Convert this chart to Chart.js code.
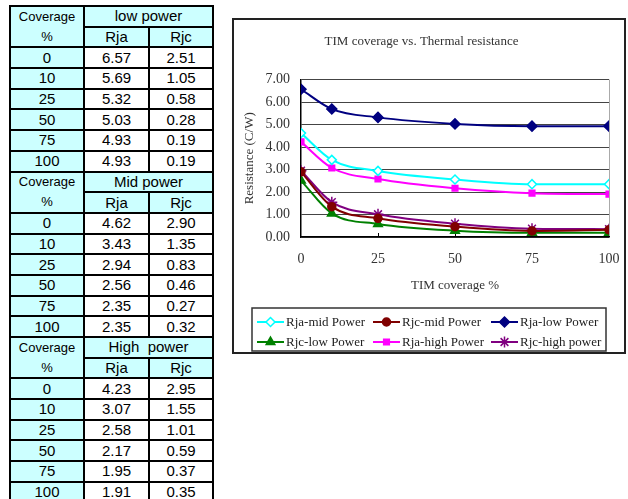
<!DOCTYPE html>
<html>
<head>
<meta charset="utf-8">
<script src="https://cdn.jsdelivr.net/npm/chart.js@4.4.1/dist/chart.umd.min.js"></script>
<style>
  body { margin: 0; background: #fff; width: 628px; height: 499px; overflow: hidden; position: relative; }
  #tabla { position: absolute; left: 9px; top: 5px; border-collapse: collapse; table-layout: fixed;
           font-family: "Liberation Sans", Arial, sans-serif; color: #000; }
  #tabla td { border: 2px solid #000; padding: 0; text-align: center; vertical-align: middle;
              height: 18.7px; font-size: 15px; line-height: 16px; }
  #tabla td.cov { background: #ccffff; }
  #tabla td.hdr { background: #ccffff; }
  #tabla td.small { font-size: 13px; }
  #tabla td.top { border-bottom: none; }
  #tabla td.bot { border-top: none; }
  #caja { position: absolute; left: 232px; top: 18px; width: 394px; height: 336px;
          border: 2px solid #222; box-sizing: border-box; }
</style>
</head>
<body>
<table id="tabla">
  <colgroup><col style="width:74px"><col style="width:65px"><col style="width:64px"></colgroup>
  <tbody id="cuerpo"></tbody>
</table>
<div id="caja"><canvas id="grafico" width="390" height="332"></canvas></div>
<script>
const coverage = [0, 10, 25, 50, 75, 100];
const rjaLow  = [6.57, 5.69, 5.32, 5.03, 4.93, 4.93];
const rjcLow  = [2.51, 1.05, 0.58, 0.28, 0.19, 0.19];
const rjaMid  = [4.62, 3.43, 2.94, 2.56, 2.35, 2.35];
const rjcMid  = [2.90, 1.35, 0.83, 0.46, 0.27, 0.32];
const rjaHigh = [4.23, 3.07, 2.58, 2.17, 1.95, 1.91];
const rjcHigh = [2.95, 1.55, 1.01, 0.59, 0.37, 0.35];
const xTicks = [0, 25, 50, 75, 100];
const yTicks = [0, 1, 2, 3, 4, 5, 6, 7];

// ---- tabla de la izquierda ----
const bloques = [
  { nombre: 'low power', rja: rjaLow, rjc: rjcLow },
  { nombre: 'Mid power', rja: rjaMid, rjc: rjcMid },
  { nombre: 'High&nbsp; power', rja: rjaHigh, rjc: rjcHigh }
];
let html = '';
bloques.forEach(b => {
  html += '<tr><td class="cov small top">Coverage</td><td class="hdr" colspan="2">' + b.nombre + '</td></tr>';
  html += '<tr><td class="cov small bot">%</td><td class="hdr">Rja</td><td class="hdr">Rjc</td></tr>';
  coverage.forEach((c, i) => {
    html += '<tr><td class="cov">' + c + '</td><td>' + b.rja[i].toFixed(2) + '</td><td>' + b.rjc[i].toFixed(2) + '</td></tr>';
  });
});
document.getElementById('cuerpo').innerHTML = html;

// ---- gráfico ----
const puntos = arr => coverage.map((c, i) => ({ x: c, y: arr[i] }));

const series = [
  { label: 'Rja-mid Power',  data: rjaMid,  color: '#00ffff', fill: '#ffffff', style: 'rectRot', r: 4.5 },
  { label: 'Rjc-mid Power',  data: rjcMid,  color: '#800000', fill: '#800000', style: 'circle',  r: 4 },
  { label: 'Rja-low Power',  data: rjaLow,  color: '#000080', fill: '#000080', style: 'rectRot', r: 5 },
  { label: 'Rjc-low Power',  data: rjcLow,  color: '#008000', fill: '#008000', style: 'triangle', r: 5 },
  { label: 'Rja-high Power', data: rjaHigh, color: '#ff00ff', fill: '#ff00ff', style: 'rect',    r: 4 },
  { label: 'Rjc-high power', data: rjcHigh, color: '#800080', fill: '#800080', style: 'star',    r: 5.5 }
];

const serif = '"Liberation Serif", "Times New Roman", serif';

// marcas pequeñas hacia dentro en el eje X
const marcasX = {
  id: 'marcasX',
  beforeDatasetsDraw(chart) {
    const { ctx, chartArea } = chart;
    const sx = chart.scales.x;
    ctx.save();
    ctx.strokeStyle = '#000';
    ctx.lineWidth = 1;
    xTicks.slice(1, -1).forEach(v => {
      const px = Math.round(sx.getPixelForValue(v)) + 0.5;
      ctx.beginPath(); ctx.moveTo(px, chartArea.bottom); ctx.lineTo(px, chartArea.bottom - 4); ctx.stroke();
    });
    ctx.restore();
  }
};

// Leyenda con recuadro, 3 columnas x 2 filas
const leyenda = {
  id: 'leyenda',
  afterDraw(chart) {
    const ctx = chart.ctx;
    ctx.save();
    ctx.fillStyle = '#fff';
    ctx.fillRect(18, 288, 354, 43);
    ctx.strokeStyle = '#333';
    ctx.lineWidth = 1.5;
    ctx.strokeRect(18, 288, 354, 43);
    const colX = [23, 139, 257];
    const filaY = [302, 322];
    ctx.font = '13px ' + serif;
    ctx.textBaseline = 'middle';
    chart.data.datasets.forEach((ds, i) => {
      const x = colX[i % 3], y = filaY[Math.floor(i / 3)];
      ctx.strokeStyle = ds.borderColor;
      ctx.lineWidth = 2;
      ctx.beginPath(); ctx.moveTo(x, y); ctx.lineTo(x + 27, y); ctx.stroke();
      ctx.fillStyle = ds.pointBackgroundColor;
      ctx.strokeStyle = ds.borderColor;
      ctx.lineWidth = 1.5;
      Chart.helpers.drawPoint(ctx, { pointStyle: ds.pointStyle, radius: ds.pointRadius, borderWidth: 1.5, rotation: 0 }, x + 13.5, y);
      ctx.fillStyle = '#222';
      ctx.fillText(ds.label, x + 29, y + 1);
    });
    ctx.restore();
  }
};

new Chart(document.getElementById('grafico'), {
  type: 'line',
  data: {
    datasets: series.map(s => ({
      label: s.label,
      data: puntos(s.data),
      borderColor: s.color,
      backgroundColor: s.color,
      pointBackgroundColor: s.fill,
      pointBorderColor: s.color,
      pointBorderWidth: 1.5,
      pointStyle: s.style,
      pointRadius: s.r,
      borderWidth: 2,
      cubicInterpolationMode: 'monotone',
      fill: false
    }))
  },
  options: {
    responsive: false,
    animation: false,
    events: [],
    layout: { padding: { left: 0, right: 15, top: 0, bottom: 59 } },
    plugins: {
      legend: { display: false },
      tooltip: { enabled: false },
      title: {
        display: true,
        text: 'TIM coverage vs. Thermal resistance',
        color: '#333',
        font: { family: serif, size: 13, weight: 'normal' },
        padding: { top: 14, bottom: 30 }
      }
    },
    scales: {
      x: {
        type: 'linear',
        min: 0, max: 100,
        afterBuildTicks: s => { s.ticks = xTicks.map(v => ({ value: v })); },
        afterFit: s => { s.height = 56; },
        grid: {
          drawTicks: true,
          tickLength: 12,
          tickColor: 'rgba(0,0,0,0)',
          color: c => (c.tick && c.tick.value === 100) ? '#aaa' : 'rgba(0,0,0,0)'
        },
        border: { color: '#000', width: 1.5 },
        ticks: { color: '#333', font: { family: serif, size: 14 }, padding: 2 },
        title: { display: true, text: 'TIM coverage %', color: '#333', font: { family: serif, size: 13 }, padding: 0 }
      },
      y: {
        min: 0, max: 7,
        afterBuildTicks: s => { s.ticks = yTicks.map(v => ({ value: v })); },
        afterFit: s => { s.width = 67; },
        grid: { drawTicks: false, color: '#444', lineWidth: 1 },
        border: { color: '#000', width: 1.5 },
        ticks: { color: '#333', font: { family: serif, size: 14 }, padding: 11, callback: v => v.toFixed(2) },
        title: { display: true, text: 'Resistance (C/W)', color: '#333', font: { family: serif, size: 13 }, padding: { top: 8, bottom: 0 } }
      }
    }
  },
  plugins: [marcasX, leyenda]
});
</script>
</body>
</html>
